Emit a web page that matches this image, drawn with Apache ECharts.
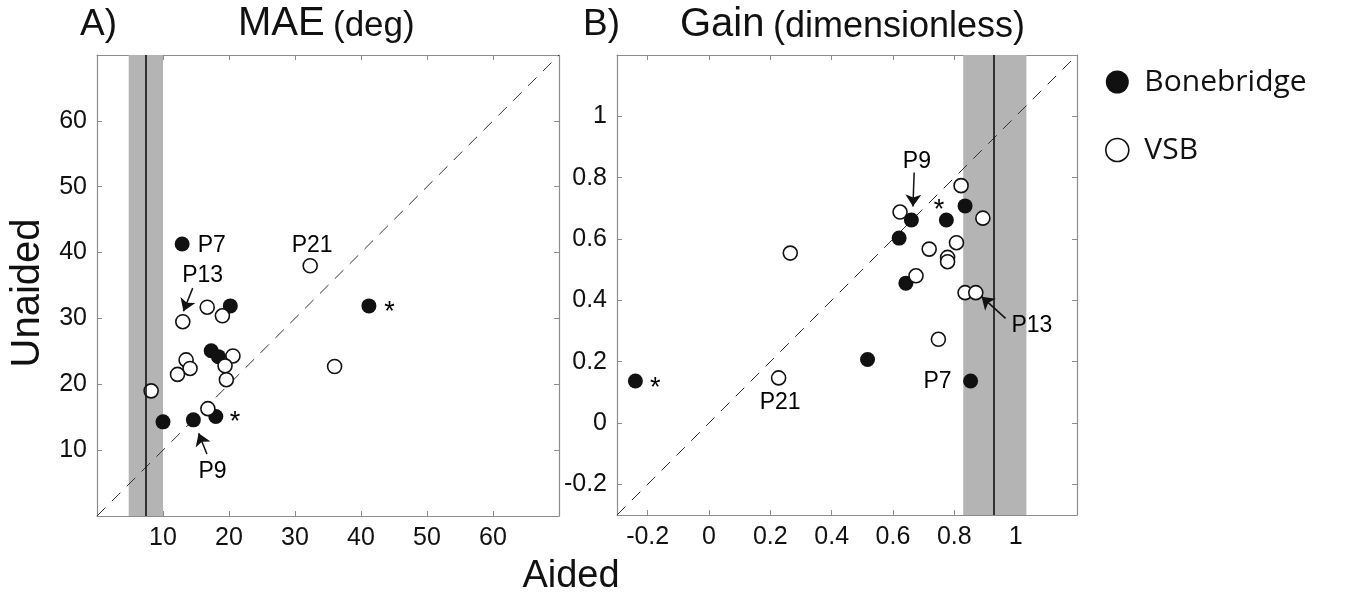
<!DOCTYPE html>
<html>
<head>
<meta charset="utf-8">
<script src="https://cdn.jsdelivr.net/npm/echarts@6/dist/echarts.min.js"></script>
<style>html,body{margin:0;padding:0;background:#fff;}#c{width:1349px;height:601px;}</style>
</head>
<body>
<div id="c"></div>
<script>
// ---- Panel A: MAE (deg) ----
const bbAidedA   = [12.9, 20.2, 41.2, 17.3, 18.4, 10.0, 14.6, 18.0];
const bbUnaidedA = [41.3, 31.9, 31.9, 25.1, 24.2, 14.3, 14.6, 15.1];
const vsbAidedA   = [32.3, 13.0, 16.7, 19.0, 20.6, 13.5, 14.1, 12.2, 19.4, 19.6, 36.0, 8.2, 16.8];
const vsbUnaidedA = [38.0, 29.5, 31.7, 30.4, 24.3, 23.7, 22.4, 21.5, 22.8, 20.7, 22.7, 19.0, 16.3];
const bandA = [4.8, 10.0];
const refLineA = 7.4;
const ticksA = [10, 20, 30, 40, 50, 60];

// ---- Panel B: Gain (dimensionless) ----
const bbAidedB   = [-0.24, 0.517, 0.853, 0.62, 0.66, 0.774, 0.835, 0.642];
const bbUnaidedB = [0.137, 0.207, 0.137, 0.603, 0.662, 0.662, 0.708, 0.456];
const vsbAidedB   = [0.265, 0.227, 0.623, 0.822, 0.893, 0.718, 0.807, 0.778, 0.778, 0.675, 0.835, 0.87, 0.748];
const vsbUnaidedB = [0.554, 0.147, 0.688, 0.774, 0.668, 0.567, 0.588, 0.54, 0.526, 0.48, 0.425, 0.425, 0.273];
const bandB = [0.829, 1.035];
const refLineB = 0.933;
const ticksB = [-0.2, 0, 0.2, 0.4, 0.6, 0.8, 1];

// ---- Annotations (data coordinates) ----
const notesA = [['P7', 17.4, 41.0], ['P21', 32.6, 41.0], ['P13', 16.0, 36.5], ['P9', 17.5, 6.7], ['*', 44.3, 31.9], ['*', 20.9, 15.2]];
const arrowsA = [[[14.5, 34.6], [13.1, 31.1]], [[16.65, 9.4], [15.4, 12.55]]];
const notesB = [['*', -0.175, 0.134], ['*', 0.75, 0.715], ['P9', 0.678, 0.853], ['P13', 1.053, 0.316], ['P21', 0.232, 0.065], ['P7', 0.745, 0.134]];
const arrowsB = [[[0.669, 0.817], [0.665, 0.706]], [[0.967, 0.341], [0.889, 0.412]]];

const FONT = 'Liberation Sans';
const TXT = '#111';
const BOX = '#8c8c8c';
const zip = (a, b) => a.map((v, i) => [v, b[i]]);

function axis(grid, min, max, pos, ticks, showLabel) {
  return {
    gridIndex: grid, type: 'value', min: min, max: max, position: pos,
    axisLine: { show: true, onZero: false, lineStyle: { color: BOX, width: 1.2 } },
    axisTick: { show: true, inside: true, length: 5, customValues: ticks, lineStyle: { color: BOX, width: 1 } },
    axisLabel: { show: showLabel, customValues: ticks, margin: 10, fontSize: 25, fontFamily: FONT, color: TXT,
      formatter: v => String(Math.round(v * 10) / 10) },
    splitLine: { show: false }
  };
}

function bandSeries(xi, yi, band, line) {
  return {
    type: 'line', xAxisIndex: xi, yAxisIndex: yi, data: [], silent: true, z: 1,
    markArea: { silent: true, itemStyle: { color: '#b4b4b4', opacity: 1 }, data: [[{ xAxis: band[0] }, { xAxis: band[1] }]] },
    markLine: { silent: true, symbol: ['none', 'none'], label: { show: false },
      lineStyle: { color: '#111', width: 1.6, type: 'solid' }, data: [{ xAxis: line }] }
  };
}
function diagSeries(xi, yi, lo, hi) {
  return {
    type: 'line', xAxisIndex: xi, yAxisIndex: yi, data: [[lo, lo], [hi, hi]], symbol: 'none', silent: true, z: 2,
    lineStyle: { color: '#333', width: 1, type: [12, 9] }
  };
}
function ptSeries(name, xi, yi, data, filled) {
  return {
    name: name, type: 'scatter', xAxisIndex: xi, yAxisIndex: yi, data: data, z: 3,
    symbol: 'circle', symbolSize: filled ? 15 : 14,
    itemStyle: filled ? { color: '#111', opacity: 1 } : { color: '#fff', borderColor: '#111', borderWidth: 1.6, opacity: 1 }
  };
}
function noteSeries(xi, yi, notes, arrows) {
  return {
    type: 'scatter', xAxisIndex: xi, yAxisIndex: yi, symbolSize: 1, silent: true, z: 5,
    itemStyle: { color: '#fff', opacity: 1 },
    data: notes.map(n => ({
      value: [n[1], n[2]], name: n[0],
      label: n[0] === '*' ? { fontSize: 27, offset: [0, 7] } : {}
    })),
    label: { show: true, position: 'inside', formatter: '{b}', fontSize: 23, fontFamily: FONT, color: '#000', opacity: 1,
      textBorderWidth: 0 },
    markLine: {
      silent: true, symbol: ['none', 'arrow'], symbolSize: 12, label: { show: false },
      lineStyle: { color: '#111', width: 1.5, type: 'solid' },
      itemStyle: { color: '#111' },
      data: arrows.map(a => [{ coord: a[0] }, { coord: a[1] }])
    }
  };
}

const chart = echarts.init(document.getElementById('c'), null, { renderer: 'canvas' });
chart.setOption({
  animation: false,
  backgroundColor: '#fff',
  grid: [
    { left: 97, top: 55, width: 462, height: 461 },
    { left: 617, top: 55, width: 460, height: 460 }
  ],
  xAxis: [
    axis(0, 0, 70, 'bottom', ticksA, true),
    axis(0, 0, 70, 'top', ticksA, false),
    axis(1, -0.3, 1.2, 'bottom', ticksB, true),
    axis(1, -0.3, 1.2, 'top', ticksB, false)
  ],
  yAxis: [
    axis(0, 0, 70, 'left', ticksA, true),
    axis(0, 0, 70, 'right', ticksA, false),
    axis(1, -0.3, 1.2, 'left', ticksB, true),
    axis(1, -0.3, 1.2, 'right', ticksB, false)
  ],
  legend: {
    orient: 'vertical', left: 1100, top: 62, itemWidth: 44, itemHeight: 23, itemGap: 38,
    icon: 'circle', selectedMode: false,
    textStyle: { fontFamily: 'Open Sans', fontSize: 30, color: TXT },
    data: [
      { name: 'Bonebridge', itemStyle: { color: '#111' } },
      { name: 'VSB', itemStyle: { color: '#fff', borderColor: '#111', borderWidth: 1.6 } }
    ]
  },
  graphic: [
    { type: 'text', x: 80, y: 25, style: { text: 'A)', font: '37px "Liberation Sans"', fill: TXT, textAlign: 'left', textVerticalAlign: 'middle' } },
    { type: 'text', x: 238, y: 24, style: { text: 'MAE', font: '40px "Liberation Sans"', fill: TXT, textAlign: 'left', textVerticalAlign: 'middle' } },
    { type: 'text', x: 333, y: 26, style: { text: '(deg)', font: '35px "Liberation Sans"', fill: TXT, textAlign: 'left', textVerticalAlign: 'middle' } },
    { type: 'text', x: 583, y: 25, style: { text: 'B)', font: '37px "Liberation Sans"', fill: TXT, textAlign: 'left', textVerticalAlign: 'middle' } },
    { type: 'text', x: 680, y: 25, style: { text: 'Gain', font: '40px "Liberation Sans"', fill: TXT, textAlign: 'left', textVerticalAlign: 'middle' } },
    { type: 'text', x: 773, y: 27, style: { text: '(dimensionless)', font: '36px "Liberation Sans"', fill: TXT, textAlign: 'left', textVerticalAlign: 'middle' } },
    { type: 'text', x: 28, y: 293, rotation: Math.PI / 2, style: { text: 'Unaided', font: '40px "Liberation Sans"', fill: TXT, textAlign: 'center', textVerticalAlign: 'middle' } },
    { type: 'text', x: 571, y: 577, style: { text: 'Aided', font: '38px "Liberation Sans"', fill: TXT, textAlign: 'center', textVerticalAlign: 'middle' } }
  ],
  series: [
    bandSeries(0, 0, bandA, refLineA),
    diagSeries(0, 0, 0, 70),
    ptSeries('Bonebridge', 0, 0, zip(bbAidedA, bbUnaidedA), true),
    ptSeries('VSB', 0, 0, zip(vsbAidedA, vsbUnaidedA), false),
    noteSeries(0, 0, notesA, arrowsA),
    bandSeries(2, 2, bandB, refLineB),
    diagSeries(2, 2, -0.3, 1.2),
    ptSeries('Bonebridge', 2, 2, zip(bbAidedB, bbUnaidedB), true),
    ptSeries('VSB', 2, 2, zip(vsbAidedB, vsbUnaidedB), false),
    noteSeries(2, 2, notesB, arrowsB)
  ]
});
</script>
</body>
</html>
